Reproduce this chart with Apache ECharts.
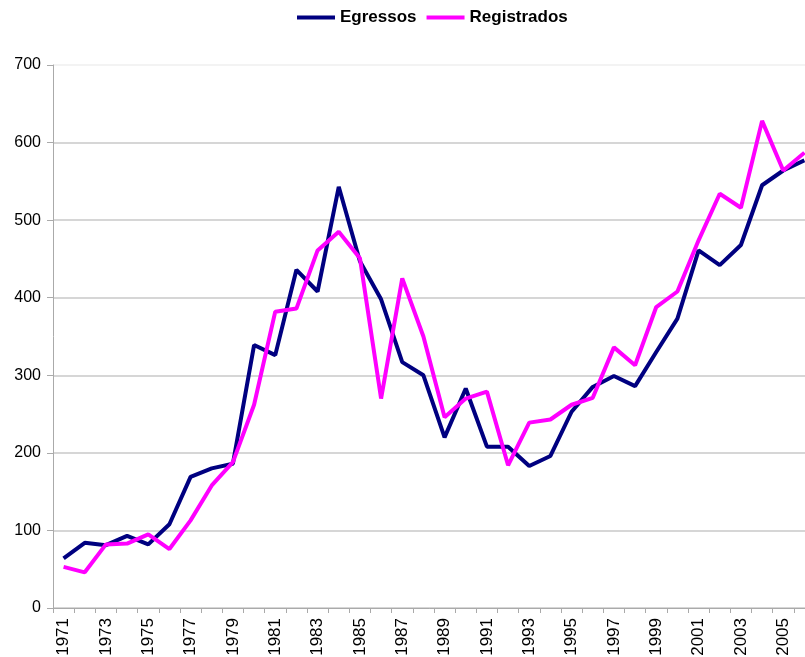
<!DOCTYPE html>
<html>
<head>
<meta charset="utf-8">
<script src="https://cdn.jsdelivr.net/npm/echarts@6/dist/echarts.min.js"></script>
<style>
    html, body { margin: 0; padding: 0; background: #fff; }
    #main { width: 805px; height: 657px; }
</style>
</head>
<body>
<div id="main"></div>
<script>
// anos
var years = [];
for (var y = 1971; y <= 2006; y++) { years.push(String(y)); }

var egressos = [64, 84, 81, 93, 82, 108, 169, 180, 186, 339,
    326, 436, 408, 543, 447, 398, 317, 300, 220, 283,
    208, 208, 183, 196, 253, 285, 299, 286, 330, 373,
    461, 442, 468, 545, 564, 577];

var registrados = [53, 46, 82, 83, 95, 76, 113, 158, 188, 262,
    382, 386, 461, 485, 451, 270, 425, 350, 246, 270,
    279, 184, 239, 243, 262, 271, 336, 313, 388, 408,
    474, 534, 516, 628, 564, 587];

var yTicks = [0, 100, 200, 300, 400, 500, 600, 700];

var chartDom = document.getElementById('main');
var myChart = echarts.init(chartDom);
var option;

option = {
    animation: false,
    textStyle: { fontFamily: 'Liberation Sans, Arial, sans-serif' },
    legend: {
        top: 9,
        left: 297,
        padding: 0,
        icon: 'rect',
        itemWidth: 38,
        itemHeight: 4,
        itemGap: 10,
        textStyle: { fontSize: 17, fontWeight: 'bold', color: '#000' },
        data: ['Egressos', 'Registrados']
    },
    grid: {
        left: 53,
        width: 762,
        top: 65,
        bottom: 49,
        containLabel: false,
        outerBoundsMode: 'none'
    },
    xAxis: {
        type: 'category',
        data: years,
        boundaryGap: true,
        axisLine: { lineStyle: { color: '#aaa', width: 1 } },
        axisTick: { show: true, interval: 0, length: 5, lineStyle: { color: '#aaa' } },
        axisLabel: {
            interval: 1,
            rotate: 90,
            color: '#000',
            fontSize: 17,
            margin: 10
        },
        splitLine: { show: false }
    },
    yAxis: {
        type: 'value',
        min: yTicks[0],
        max: yTicks[yTicks.length - 1],
        interval: 100,
        axisLine: { show: true, lineStyle: { color: '#aaa', width: 1 } },
        axisTick: { show: true, length: 6, lineStyle: { color: '#aaa' } },
        axisLabel: { color: '#000', fontSize: 16, margin: 12 },
        splitLine: {
            show: true,
            lineStyle: {
                color: ['#c8c8c8', '#c8c8c8', '#c8c8c8', '#c8c8c8', '#c8c8c8', '#c8c8c8', '#c8c8c8', '#efefef'],
                width: 1.5
            }
        }
    },
    series: [
        {
            name: 'Egressos',
            type: 'line',
            data: egressos,
            symbol: 'none',
            color: '#000080',
            lineStyle: { width: 4, color: '#000080' }
        },
        {
            name: 'Registrados',
            type: 'line',
            data: registrados,
            symbol: 'none',
            color: '#ff00ff',
            lineStyle: { width: 4, color: '#ff00ff' }
        }
    ]
};

option && myChart.setOption(option);
</script>
</body>
</html>
